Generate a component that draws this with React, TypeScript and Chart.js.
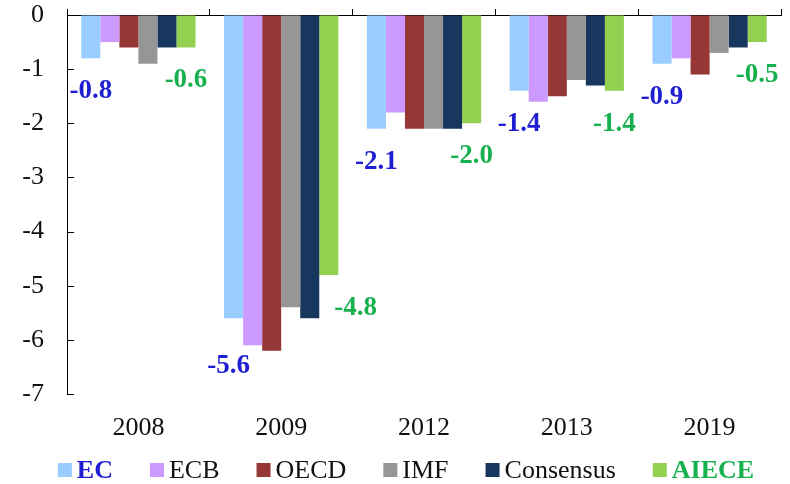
import React, { useEffect, useRef } from "react";
import { Chart, registerables } from "chart.js";

Chart.register(...registerables);

const years = ["2008", "2009", "2012", "2013", "2019"];
const seriesNames = ["EC", "ECB", "OECD", "IMF", "Consensus", "AIECE"];
const ecValues = [-0.8, -5.6, -2.1, -1.4, -0.9];
const ecbValues = [-0.5, -6.1, -1.8, -1.6, -0.8];
const oecdValues = [-0.6, -6.2, -2.1, -1.5, -1.1];
const imfValues = [-0.9, -5.4, -2.1, -1.2, -0.7];
const consensusValues = [-0.6, -5.6, -2.1, -1.3, -0.6];
const aieceValues = [-0.6, -4.8, -2.0, -1.4, -0.5];
const yMin = -7;
const yMax = 0;

const barColors = ["#99CCFF", "#CC99FF", "#953735", "#969696", "#17375E", "#92D050"];
const labelColors = ["#1E1ED2", null, null, null, null, "#17B04E"];
const legendTextColors = ["#1E1ED2", "#111111", "#111111", "#111111", "#111111", "#17B04E"];
const legendBold = [true, false, false, false, false, true];

const FONT = '"Liberation Serif", "Times New Roman", serif';

const valueLabelPlugin = {
  id: "valueLabels",
  afterDatasetsDraw(chart: any) {
    const ctx = chart.ctx;
    ctx.save();
    ctx.font = `bold 27px ${FONT}`;
    ctx.textAlign = "center";
    ctx.textBaseline = "middle";
    const n = chart.data.datasets.length;
    chart.data.datasets.forEach((ds: any, di: number) => {
      const color = labelColors[di];
      if (!color) return;
      const meta = chart.getDatasetMeta(di);
      meta.data.forEach((bar: any, i: number) => {
        const v = ds.data[i];
        const text = v.toFixed(1);
        const w = ctx.measureText(text).width;
        const h = 20;
        let cx = bar.x;
        let cy = bar.y + 33;
        for (let k = 0; k < n; k++) {
          if (k === di) continue;
          const b = chart.getDatasetMeta(k).data[i];
          const left = b.x - b.width / 2;
          const right = b.x + b.width / 2;
          if (cx + w / 2 > left && cx - w / 2 < right && cy - h / 2 < b.y) {
            if (di === 0) {
              cy = b.y + 21;
              cx = bar.x - 5;
            } else {
              cx = right + 15 + w / 2;
            }
          }
        }
        ctx.fillStyle = color;
        ctx.fillText(text, cx, cy);
      });
    });
    ctx.restore();
  },
};

const yTickMarksPlugin = {
  id: "yTickMarks",
  afterDraw(chart: any) {
    const ctx = chart.ctx;
    const ys = chart.scales.y;
    const x0 = chart.chartArea.left;
    ctx.save();
    ctx.strokeStyle = "#000000";
    ctx.lineWidth = 1;
    ctx.beginPath();
    ys.ticks.forEach((t: any) => {
      const y = Math.round(ys.getPixelForValue(t.value)) + 0.5;
      ctx.moveTo(x0, y);
      ctx.lineTo(x0 + 7, y);
    });
    ctx.stroke();
    ctx.restore();
  },
};

const legendPlugin = {
  id: "customLegend",
  afterDraw(chart: any) {
    const ctx = chart.ctx;
    ctx.save();
    const box = 14;
    const boxGap = 5;
    const itemGap = 37;
    const cyLegend = 470;
    const widths = seriesNames.map((name, i) => {
      ctx.font = `${legendBold[i] ? "bold " : ""}26px ${FONT}`;
      return ctx.measureText(name).width;
    });
    const total =
      widths.reduce((a, b) => a + b, 0) + seriesNames.length * (box + boxGap) + (seriesNames.length - 1) * itemGap;
    let x = 406 - total / 2;
    ctx.textBaseline = "middle";
    ctx.textAlign = "left";
    seriesNames.forEach((name, i) => {
      ctx.fillStyle = barColors[i];
      ctx.fillRect(x, cyLegend - box / 2, box, box);
      x += box + boxGap;
      ctx.font = `${legendBold[i] ? "bold " : ""}26px ${FONT}`;
      ctx.fillStyle = legendTextColors[i];
      ctx.fillText(name, x, cyLegend + 1);
      x += widths[i] + itemGap;
    });
    ctx.restore();
  },
};

export default function App() {
  const canvasRef = useRef<HTMLCanvasElement | null>(null);

  useEffect(() => {
    if (!canvasRef.current) return;
    const allValues = [ecValues, ecbValues, oecdValues, imfValues, consensusValues, aieceValues];
    const chart = new Chart(canvasRef.current, {
      type: "bar",
      data: {
        labels: years,
        datasets: seriesNames.map((name, i) => ({
          label: name,
          data: allValues[i],
          backgroundColor: barColors[i],
          borderWidth: 0,
          categoryPercentage: 0.8,
          barPercentage: 1.0,
          xAxisID: "x",
          yAxisID: "y",
        })),
      },
      options: {
        animation: false,
        responsive: true,
        maintainAspectRatio: false,
        layout: { padding: { left: 0, right: 9, top: 0, bottom: 0 } },
        plugins: {
          legend: { display: false },
          tooltip: { enabled: false },
        },
        scales: {
          x: {
            type: "category",
            position: "top",
            offset: true,
            grid: {
              offset: true,
              drawOnChartArea: false,
              drawTicks: true,
              tickLength: 6,
              color: "#000000",
              lineWidth: 1,
            },
            border: { display: true, color: "#000000", width: 1 },
            ticks: { display: false },
            afterFit: (s: any) => {
              s.height = 15;
            },
          },
          x2: {
            type: "category",
            labels: years,
            position: "bottom",
            offset: true,
            grid: { display: false, drawTicks: false, tickLength: 0 },
            border: { display: false },
            ticks: {
              color: "#111111",
              font: { size: 26, family: FONT },
              padding: 19,
              maxRotation: 0,
              autoSkip: false,
            },
            afterFit: (s: any) => {
              s.height = 90;
              s.paddingLeft = 0;
              s.paddingRight = 0;
            },
          },
          y: {
            min: yMin,
            max: yMax,
            position: "left",
            grid: {
              drawOnChartArea: false,
              drawTicks: false,
              color: "#000000",
              lineWidth: 1,
            },
            border: { display: true, color: "#000000", width: 1 },
            ticks: {
              stepSize: 1,
              color: "#111111",
              font: { size: 26, family: FONT },
              padding: 23,
            },
            afterFit: (s: any) => {
              s.width = 67;
              s.paddingTop = 0;
              s.paddingBottom = 0;
            },
          },
        },
      },
      plugins: [valueLabelPlugin, yTickMarksPlugin, legendPlugin],
    } as any);
    return () => chart.destroy();
  }, []);

  return (
    <div style={{ position: "absolute", left: 0, top: 0, width: 790, height: 484, background: "#ffffff" }}>
      <canvas ref={canvasRef} />
    </div>
  );
}
